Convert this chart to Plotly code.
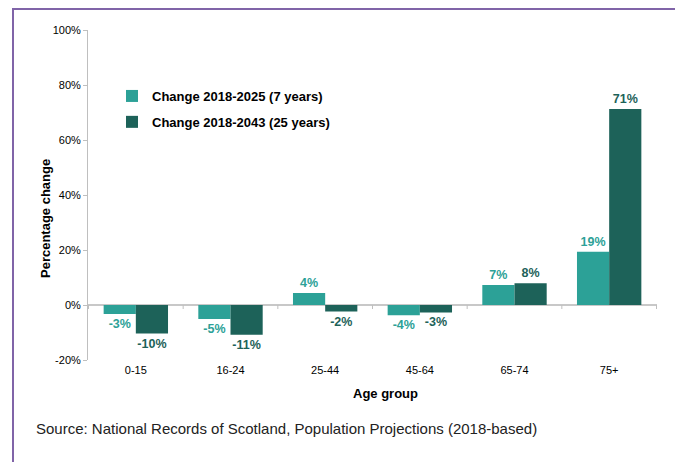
import plotly.graph_objects as go

categories = ["0-15", "16-24", "25-44", "45-64", "65-74", "75+"]
change_7yr = [-3.3, -5.1, 4.4, -3.7, 7.3, 19.4]
change_25yr = [-10.4, -10.8, -2.4, -2.7, 7.9, 71.3]
labels_7yr = ["-3%", "-5%", "4%", "-4%", "7%", "19%"]
labels_25yr = ["-10%", "-11%", "-2%", "-3%", "8%", "71%"]
series_names = ["Change 2018-2025 (7 years)", "Change 2018-2043 (25 years)"]
y_ticks = [-20, 0, 20, 40, 60, 80, 100]
y_tick_labels = ["-20%", "0%", "20%", "40%", "60%", "80%", "100%"]

LIGHT = "#2CA197"
DARK = "#1D6259"
FONT = "Liberation Sans, Arial, sans-serif"

# page body has an 8px default margin; compensate
OFF = 8
W, H = 683 - OFF, 462 - OFF
L, T = 88 - OFF, 30 - OFF
PW, PH = 569, 330

def px_x(x):
    return (x - 88) / PW

def px_y(y):
    return (360 - y) / PH

fig = go.Figure()
for vals, labs, name, col, grp in [
    (change_7yr, labels_7yr, series_names[0], LIGHT, "a"),
    (change_25yr, labels_25yr, series_names[1], DARK, "b"),
]:
    fig.add_trace(go.Bar(
        x=categories, y=vals, name=name, marker=dict(color=col, line=dict(width=0)),
        text=labs, textposition="outside", cliponaxis=False,
        textfont=dict(color=col, size=12.5, family=FONT, weight="bold"),
        legendgroup=grp,
    ))

shapes = []
for i in range(len(categories) + 1):
    shapes.append(dict(type="line", xref="x", yref="y", x0=i - 0.5, x1=i - 0.5,
                       ysizemode="pixel", yanchor=0, y0=0, y1=-4,
                       line=dict(color="#BFBFBF", width=1)))
shapes.append(dict(type="rect", xref="paper", yref="paper",
                   x0=px_x(13), x1=px_x(678), y0=px_y(480), y1=px_y(9),
                   line=dict(color="#8064A8", width=2), fillcolor="rgba(0,0,0,0)", layer="below"))

fig.update_layout(
    width=W, height=H,
    margin=dict(l=L, r=W - L - PW, t=T, b=H - T - PH, autoexpand=False),
    paper_bgcolor="white", plot_bgcolor="white",
    barmode="group", bargap=0.32, bargroupgap=0,
    font=dict(family=FONT, color="#000000", size=11),
    showlegend=True,
    legend=dict(x=px_x(112), y=px_y(81), xanchor="left", yanchor="top",
                font=dict(size=13, family=FONT, weight="bold", color="#000"),
                tracegroupgap=6, itemwidth=30, bgcolor="rgba(0,0,0,0)"),
    shapes=shapes,
    annotations=[
        dict(text="Source: National Records of Scotland, Population Projections (2018-based)",
             xref="paper", yref="paper", x=px_x(34), y=px_y(428),
             xanchor="left", yanchor="middle", showarrow=False,
             font=dict(size=15, family=FONT, color="#222222")),
        dict(text="Percentage change", textangle=-90,
             xref="paper", yref="paper", x=px_x(45), y=px_y(219),
             xanchor="center", yanchor="middle", showarrow=False,
             font=dict(size=13, family=FONT, color="#000", weight="bold")),
        dict(text="Age group",
             xref="paper", yref="paper", x=px_x(385), y=px_y(393),
             xanchor="center", yanchor="middle", showarrow=False,
             font=dict(size=13, family=FONT, color="#000", weight="bold")),
    ],
)
fig.update_xaxes(showline=False, showgrid=False, ticks="", ticklabelstandoff=2,
                 tickfont=dict(size=11, family=FONT, color="#000"))
fig.update_yaxes(range=[-20, 100], tickvals=y_ticks, ticktext=y_tick_labels,
                 showgrid=False, showline=True, linecolor="#BFBFBF", linewidth=1,
                 ticks="outside", ticklen=4, tickcolor="#BFBFBF",
                 zeroline=True, zerolinecolor="#C8C8C8", zerolinewidth=1.5,
                 tickfont=dict(size=11, family=FONT, color="#000"))

fig.write_html("out.html")
